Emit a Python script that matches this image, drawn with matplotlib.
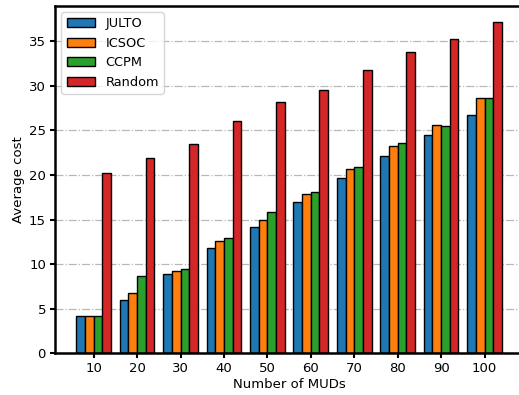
import numpy as np
import matplotlib.pyplot as plt

# Données
muds = [10, 20, 30, 40, 50, 60, 70, 80, 90, 100]
julto = [4.18, 5.94, 8.89, 11.80, 14.13, 16.96, 19.62, 22.15, 24.44, 26.68]
icsoc = [4.18, 6.73, 9.26, 12.62, 14.98, 17.89, 20.70, 23.27, 25.63, 28.65]
ccpm = [4.18, 8.63, 9.45, 12.89, 15.81, 18.08, 20.85, 23.61, 25.52, 28.62]
rand = [20.18, 21.86, 23.50, 26.04, 28.14, 29.52, 31.76, 33.74, 35.27, 37.11]

series = [("JULTO", julto, "#1f77b4"),
          ("ICSOC", icsoc, "#ff7f0e"),
          ("CCPM", ccpm, "#2ca02c"),
          ("Random", rand, "#d62728")]

plt.rcParams['font.size'] = 9.5

fig = plt.figure(figsize=(5.19, 3.95), dpi=100)
ax = fig.add_axes([0.106, 0.1055, 0.902, 0.88])

x = np.arange(len(muds))
w = 0.2
for i, (name, vals, col) in enumerate(series):
    ax.bar(x + (i - 1.5) * w, vals, w, label=name, color=col,
           edgecolor="black", linewidth=1)

ax.set_xticks(x)
ax.set_xticklabels([str(m) for m in muds])
ax.set_xlabel("Number of MUDs", labelpad=2)
ax.set_ylabel("Average cost", labelpad=3)
ax.set_axisbelow(True)
ax.yaxis.grid(True, linestyle="-.", color="#b8b8b8", linewidth=0.9)

for s in ax.spines.values():
    s.set_linewidth(1.8)
ax.tick_params(width=1.5, length=3.5, pad=3)

ax.legend(loc="upper left", fontsize=9.3, handlelength=2.2)

fig.savefig("out.png", dpi=100)
